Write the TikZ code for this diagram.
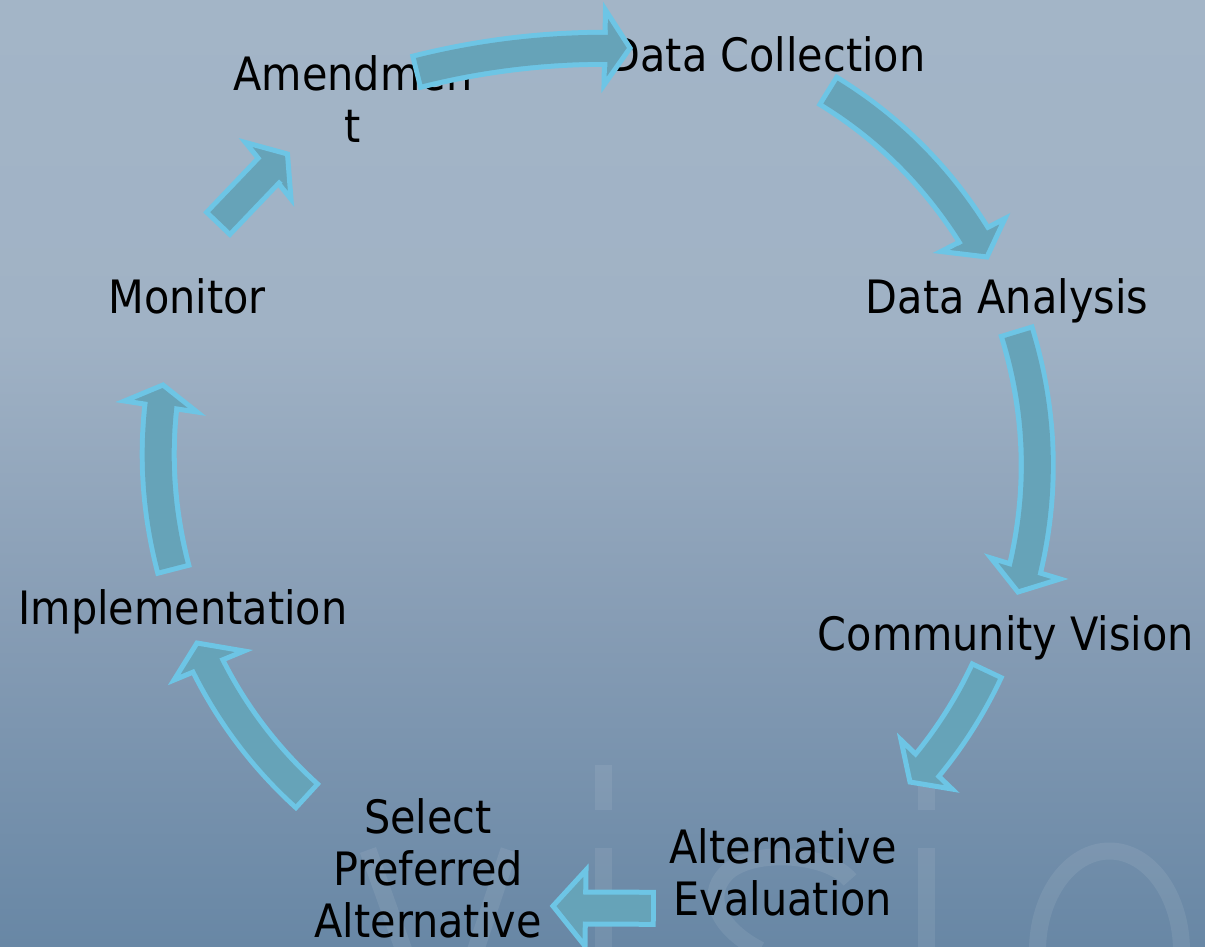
\documentclass[tikz,border=0pt]{standalone}
\usepackage{fontspec}
\setmainfont{DejaVu Sans Condensed}
\usetikzlibrary{calc}
\definecolor{bgtop}{RGB}{163,181,199}
\definecolor{bgup}{RGB}{160,178,197}
\definecolor{bglow}{RGB}{135,157,181}
\definecolor{bgbot}{RGB}{104,135,165}
\definecolor{afill}{RGB}{102,163,184}
\definecolor{aline}{RGB}{109,197,229}
\pgfdeclareverticalshading{bgshade}{100bp}{color(0bp)=(bgbot); color(25bp)=(bgbot); color(42.5bp)=(bglow); color(57.5bp)=(bgup); color(75bp)=(bgtop); color(100bp)=(bgtop)}
\tikzset{
  headshape/.style={fill=afill, draw=aline, line width=5pt, line join=miter},
  bodyline/.style={draw=aline, line width=37pt, shorten <=-2.5pt},
  bodyfill/.style={draw=afill, line width=27pt, shorten <=2.5pt},
  lbl/.style={font=\fontsize{46}{52}\selectfont, text=black, align=center, anchor=base, inner sep=0pt},
  wm/.style={draw=white, draw opacity=0.08, line width=17pt},
  wmfill/.style={fill=white, fill opacity=0.08},
}
\newcommand{\cyclearrow}[7]{%
  \filldraw[headshape] #5 -- #6 -- #7 -- cycle;
  \draw[bodyline] #1 .. controls #2 and #3 .. #4;
  \draw[bodyfill] #1 .. controls #2 and #3 .. #4 -- ($#4!-5pt!#3$);
}
\begin{document}
\begin{tikzpicture}[x=1pt,y=-1pt]
\useasboundingbox (0,0) rectangle (1205,946);
\clip (0,0) rectangle (1205,946);
\shade[shading=bgshade] (0,0) rectangle (1205,946);
% watermark "vision"
\draw[wm] (368,850) -- (441,1054) -- (509,850);
\fill[wmfill] (595,765) rectangle (612,810);
\fill[wmfill] (595,848) rectangle (612,960);
\draw[wm] (850,880) .. controls (830,855) and (760,848) .. (730,870) .. controls (705,890) and (712,925) .. (760,950);
\fill[wmfill] (918,765) rectangle (935,810);
\fill[wmfill] (918,848) rectangle (935,960);
\draw[wm] (1109.5,951) ellipse [x radius=72, y radius=100];
% labels (base anchor = baseline of the last line)
\node[lbl] (amend) at (353,142) {Amendmen\\t};
\node[lbl] (collect) at (767,71) {Data Collection};
\node[lbl] (analysis) at (1007,313) {Data Analysis};
\node[lbl] (vision) at (1006,650) {Community Vision};
\node[lbl] (alteval) at (783,915) {Alternative\\Evaluation};
\node[lbl] (select) at (428,937) {Select\\Preferred\\Alternative};
\node[lbl] (impl) at (183,624) {Implementation};
\node[lbl] (monitor) at (187,313) {Monitor};
% arrows
\cyclearrow{(416.7,71.7)}{(479.4,55.9)}{(543,48.1)}{(607.5,48.3)}{(605.5,10)}{(630,48)}{(604,85)}
\cyclearrow{(828.3,90.8)}{(887.9,127.4)}{(936.6,175.7)}{(974.2,235.8)}{(1005,218.5)}{(987,257)}{(941,251.5)}
\cyclearrow{(1016.7,331.7)}{(1041,410.3)}{(1043.8,489.4)}{(1025,569)}{(991,558)}{(1018,592)}{(1060,579)}
\cyclearrow{(986.7,670.8)}{(970.7,705)}{(950.7,736.7)}{(926.7,765.8)}{(901,740)}{(910,782)}{(952,789)}
\cyclearrow{(653.3,908.3)}{(631,908.2)}{(609,908.1)}{(586.7,908)}{(586,870)}{(553,906)}{(585,946)}
\cyclearrow{(306.7,795.8)}{(265.9,758.8)}{(233.1,715.8)}{(208.3,666.7)}{(174,680)}{(197,643)}{(244,651)}
\cyclearrow{(173.3,569.2)}{(159.07,515.1)}{(154.9,460.9)}{(160.8,406.7)}{(124.5,401)}{(163,385)}{(197,412)}
\cyclearrow{(218.3,223.3)}{(235.3,205.5)}{(252.2,187.8)}{(269.2,170)}{(245.5,142.5)}{(287.5,154)}{(291,199)}
\end{tikzpicture}
\end{document}
